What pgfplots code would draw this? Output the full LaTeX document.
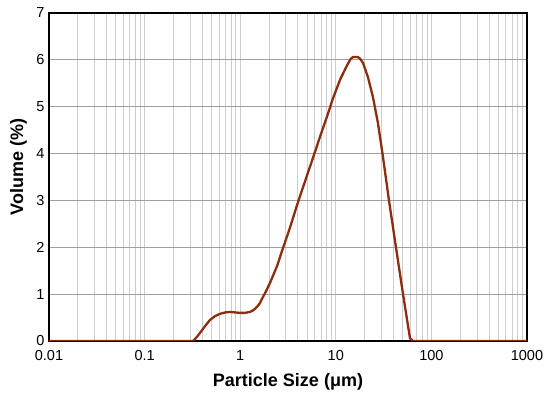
\documentclass[border=0pt]{standalone}
\usepackage{fontspec}
\setmainfont{Liberation Sans}
\usepackage{pgfplots}
\pgfplotsset{compat=1.18}
\definecolor{curve}{RGB}{140,45,15}
\definecolor{gridmin}{RGB}{205,205,205}
\definecolor{gridmaj}{RGB}{160,160,160}

\begin{document}
\begin{tikzpicture}
\begin{axis}[
    scale only axis,
    width=478pt, height=328pt,
    xmode=log, log basis x=10,
    xmin=0.01, xmax=1000,
    ymin=0, ymax=7,
    xtick={0.01,0.1,1,10,100,1000},
    xticklabels={0.01,0.1,1,10,100,1000},
    minor xtick={0.02,0.03,0.04,0.05,0.06,0.07,0.08,0.09,
                 0.2,0.3,0.4,0.5,0.6,0.7,0.8,0.9,
                 2,3,4,5,6,7,8,9,
                 20,30,40,50,60,70,80,90,
                 200,300,400,500,600,700,800,900},
    ytick={0,1,2,3,4,5,6,7},
    major tick length=0pt, minor tick length=0pt,
    /pgf/number format/assume math mode=true,
    tick label style={font=\fontsize{14.5}{16}\selectfont},
    xticklabel style={yshift=-6pt},
    yticklabel style={xshift=-1pt},
    xlabel={\textbf{Particle Size (μm)}},
    ylabel={\textbf{Volume (\%)}},
    label style={font=\fontsize{18}{20}\selectfont},
    xlabel style={at={(axis description cs:0.5,-0.125)}, anchor=center},
    ylabel style={at={(axis description cs:-0.064,0.53)}, anchor=center},
    xmajorgrids, xminorgrids, ymajorgrids,
    minor grid style={draw=gridmin, line width=0.8pt},
    x grid style={draw=gridmin, line width=0.8pt},
    y grid style={draw=gridmaj, line width=0.8pt},
    axis line style={black, line width=1.4pt},
]
\addplot[curve, line width=2.3pt, mark=none, line join=round] coordinates {
    (0.01,0) (0.321,0) (0.35,0.08) (0.379,0.17) (0.43,0.32) (0.483,0.45)
    (0.545,0.53) (0.615,0.58) (0.70,0.61) (0.782,0.62) (0.88,0.61)
    (0.995,0.60) (1.12,0.60) (1.267,0.62) (1.38,0.66) (1.50,0.73) (1.60,0.80)
    (1.69,0.90) (1.85,1.05) (2.05,1.24) (2.43,1.60)
    (2.80,1.98) (3.32,2.42) (3.93,2.90) (4.54,3.28) (5.37,3.72) (6.21,4.10)
    (6.84,4.36) (8.09,4.79) (9.35,5.18) (11.1,5.58) (13.1,5.88) (14.3,6.02)
    (15.1,6.06) (17.1,6.06) (18.2,6.01) (19.3,5.93) (21.7,5.63) (24.5,5.2)
    (27.6,4.65) (31.2,3.92) (36.0,3.0) (42.6,2.0) (50.5,1.0) (59.7,0.06)
    (64.2,0) (1000,0)
};
\coordinate (bl) at (rel axis cs:0,0);
\coordinate (tr) at (rel axis cs:1,1);
\end{axis}
\path (bl) ++(-49pt,-52pt) coordinate (a);
\path (tr) ++(23pt,13pt) coordinate (b);
\path (a) rectangle (b);
\end{tikzpicture}
\end{document}
